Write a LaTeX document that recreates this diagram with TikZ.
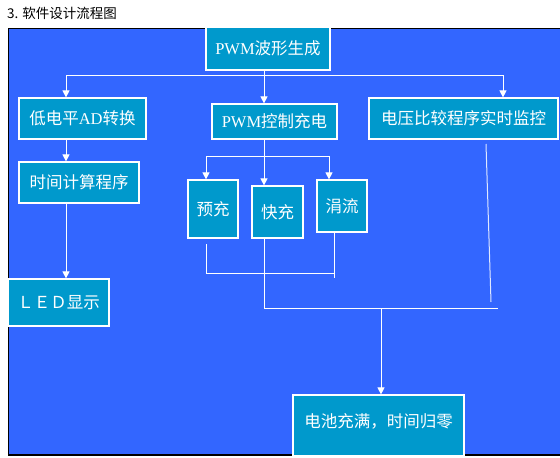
\documentclass[tikz,border=0pt]{standalone}
\usepackage{fontspec}
\setmainfont{Liberation Serif}
\newfontfamily\cjk{Noto Sans CJK SC}
\usetikzlibrary{arrows.meta}
\definecolor{bg}{HTML}{3366FF}
\definecolor{boxc}{HTML}{0099CC}
\tikzset{
  box/.style={draw=white, line width=1.2pt, fill=boxc, text=white, inner sep=0pt,
    font=\cjk\fontsize{16.5}{18}\selectfont},
  conn/.style={draw=white, line width=1pt},
  arr/.style={conn, -{Triangle[width=7pt,length=7pt]}}
}
\newcommand{\lat}[1]{{\rmfamily #1}}
\begin{document}
\begin{tikzpicture}[x=1pt,y=-1pt]
\useasboundingbox (0,0) rectangle (560,458);
\fill[white] (0,0) rectangle (560,458);
\node[anchor=west, font=\cjk\fontsize{13.5}{15}\selectfont, inner sep=0pt] (title) at (7,13.5) {3. 软件设计流程图};
\filldraw[fill=bg, draw=black, line width=1.5pt] (8.5,28.5) rectangle (565,455);
% boxes
\node[box, minimum width=124pt, minimum height=43pt] (pwm) at (268,48.5) {\lat{PWM}波形生成};
\node[box, minimum width=127pt, minimum height=41pt] (ad) at (82.5,118.5) {低电平\lat{AD}转换};
\node[box, minimum width=125pt, minimum height=35pt] (ctl) at (274.5,121.5) {\lat{PWM}控制充电};
\node[box, minimum width=189pt, minimum height=41pt] (volt) at (463.5,118.5) {电压比较程序实时监控};
\node[box, minimum width=120pt, minimum height=41pt] (time) at (79,182.5) {时间计算程序};
\node[box, minimum width=101pt, minimum height=47pt] (led) at (58.5,302.5) {ＬＥＤ显示};
\node[box, minimum width=50pt, minimum height=58pt] (pre) at (213,209) {预充};
\node[box, minimum width=51pt, minimum height=52pt] (fast) at (277.5,212) {快充};
\node[box, minimum width=50pt, minimum height=52pt] (trk) at (342,206) {涓流};
\node[box, minimum width=171pt, minimum height=61pt, text depth=10pt] (full) at (378.5,425.5) {电池充满，时间归零};
% junction coordinates
\coordinate (j1) at (264,75);
\coordinate (hl) at (66,75);
\coordinate (hr) at (503,75);
\coordinate (s1) at (206,156);
\coordinate (s3) at (329,156);
\coordinate (b1) at (206,244);
\coordinate (b2) at (206,273);
\coordinate (b3) at (334,273);
\coordinate (b4) at (334,278);
\coordinate (m1) at (264,308);
\coordinate (m2) at (498,308);
\coordinate (mc) at (381,308);
\coordinate (v1) at (486,144);
\coordinate (v2) at (491,302);
% connectors
\draw[conn] (pwm.south -| j1) -- (j1);
\draw[conn] (hl) -- (hr);
\draw[arr] (j1) -- (j1 |- ctl.north);
\draw[arr] (hl) -- (hl |- ad.north);
\draw[arr] (hr) -- (hr |- volt.north);
\draw[arr] (ad.south -| hl) -- (time.north -| hl);
\draw[arr] (time.south -| hl) -- (led.north -| hl);
\draw[conn] (ctl.south -| j1) -- (j1 |- s1);
\draw[conn] (s1) -- (s3);
\draw[arr] (s1) -- (s1 |- pre.north);
\draw[arr] (j1 |- s1) -- (j1 |- fast.north);
\draw[arr] (s3) -- (s3 |- trk.north);
\draw[conn] (b1) -- (b2) -- (b3);
\draw[conn] (trk.south -| b3) -- (b4);
\draw[conn] (fast.south -| m1) -- (m1) -- (m2);
\draw[conn, white!85!bg] (v1) -- (v2);
\draw[arr] (mc) -- (mc |- full.north);
\end{tikzpicture}
\end{document}
